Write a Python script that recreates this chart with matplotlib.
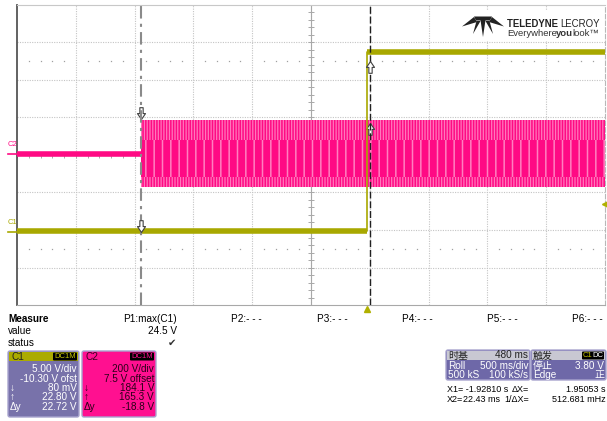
import matplotlib.pyplot as plt
from matplotlib.patches import Rectangle, FancyBboxPatch, Polygon
from matplotlib.path import Path
from matplotlib.transforms import blended_transform_factory

plt.rcParams['font.family'] = ['Liberation Sans', 'Noto Sans CJK SC', 'DejaVu Sans']
plt.rcParams['hatch.linewidth'] = 1.1

# scope settings
time_per_div = 0.5        # s/div
time_center = -0.48       # s
c1_vdiv, c1_ofst = 5.0, -10.30
c2_vdiv, c2_ofst = 200.0, 7.5
trig_level = 3.80

# traces (s, V)
c1_t = [-2.98, 0.0, 0.0, 2.02]
c1_v = [0.1, 0.1, 24.0, 24.0]
c2_t = [-2.98, -1.928]
c2_v = [0.0, 0.0]
burst_t = [-1.928, 2.02]
burst_max = [178.0, 178.0]
burst_min = [-178.0, -178.0]
core_max = [70.0, 70.0]
core_min = [-125.0, -125.0]

# cursors
x1, x2 = -1.92810, 0.02243
c1_at_x1, c1_at_x2 = 0.08, 22.80
c2_at_x1, c2_at_x2 = 184.1, 165.3

# measure table
meas_names = ['P1:max(C1)', 'P2:- - -', 'P3:- - -', 'P4:- - -', 'P5:- - -', 'P6:- - -']
meas_values = ['24.5 V', '', '', '', '', '']
meas_status = ['\u2714', '', '', '', '', '']

c1_labels = ['', '', '\u2193', '\u2191', '\u0394y']
c1_info = ['5.00 V/div', '-10.30 V ofst', '80 mV', '22.80 V', '22.72 V']
c2_labels = ['', '', '\u2193', '\u2191', '\u0394y']
c2_info = ['200 V/div', '7.5 V offset', '184.1 V', '165.3 V', '-18.8 V']

YEL = '#A8A800'
PINK = '#FF0A84'
PURPLE = '#7872AA'

W, H = 607, 421
fig = plt.figure(figsize=(W / 100, H / 100), dpi=100)
rect = [17 / W, 1 - 305 / H, 588 / W, 300 / H]

# graticule
ax = fig.add_axes(rect)
ax.set_xlim(0, 10)
ax.set_ylim(0, 8)
ax.set_xticks([])
ax.set_yticks([])
for i in range(1, 10):
    ax.axvline(i, color='#C4C4C4', lw=0.8, ls=(0, (1, 1.2)), zorder=1)
for j in range(1, 8):
    ax.axhline(j, color='#C4C4C4', lw=0.8, ls=(0, (1, 1.2)), zorder=1)
ax.axvline(5, color='#A8A8A8', lw=0.8, zorder=1)
ax.axhline(4, color='#A8A8A8', lw=0.8, zorder=1)
ticks = [k * 0.2 for k in range(51)]
ax.hlines([t for t in ticks if t <= 8], 4.95, 5.05, color='#A8A8A8', lw=0.7, zorder=1)
ax.vlines(ticks, 3.92, 4.08, color='#A8A8A8', lw=0.7, zorder=1)
dots = [i + k * 0.2 for i in range(10) for k in range(1, 5)]
for yy in (6.5, 1.5):
    ax.plot(dots, [yy] * len(dots), ls='none', marker='s', ms=0.9, mew=0, color='#A0A0A0', zorder=1)
ax.spines['left'].set_color('#555555')
ax.spines['left'].set_linewidth(1.3)
ax.spines['top'].set_color('#C8C8C8')
ax.spines['bottom'].set_color('#A8A8A8')
ax.spines['right'].set_color('#B8B8B8')
ax.spines['right'].set_linestyle((0, (4, 2)))

t_lo = time_center - 5 * time_per_div
t_hi = time_center + 5 * time_per_div

# C2
ax2 = fig.add_axes(rect)
ax2.set_xlim(t_lo, t_hi)
ax2.set_ylim(-4 * c2_vdiv - c2_ofst, 4 * c2_vdiv - c2_ofst)
ax2.axis('off')
ax2.fill_between(burst_t, burst_min, burst_max, facecolor='#FF78BC', edgecolor=PINK,
                 hatch='||||||', lw=0, zorder=3)
ax2.fill_between(burst_t, core_min, core_max, facecolor=PINK, edgecolor='#FF80C0',
                 hatch='||', lw=0, zorder=3)
ax2.plot(c2_t, c2_v, color=PINK, lw=4, solid_capstyle='butt', zorder=4)

# C1
ax1 = fig.add_axes(rect)
ax1.set_xlim(t_lo, t_hi)
ax1.set_ylim(-4 * c1_vdiv - c1_ofst, 4 * c1_vdiv - c1_ofst)
ax1.axis('off')
ax1.plot(c1_t, c1_v, color=YEL, lw=1.2, zorder=4)
ax1.plot(c1_t[:2], c1_v[:2], color=YEL, lw=4, solid_capstyle='butt', zorder=4)
ax1.plot(c1_t[2:], c1_v[2:], color=YEL, lw=4, solid_capstyle='butt', zorder=4)

# cursors
ax1.axvline(x1, color='#8A8A8A', lw=1.5, ls=(0, (6, 2.5, 1.5, 2.5)), zorder=6)
ax1.axvline(x2, color='#202020', lw=1.0, ls=(0, (5, 2)), zorder=6)

down_v = [(-0.14, 1), (0.14, 1), (0.14, 0.5), (0.34, 0.5), (0, 0), (-0.34, 0.5), (-0.14, 0.5), (-0.14, 1)]
codes = [Path.MOVETO] + [Path.LINETO] * 6 + [Path.CLOSEPOLY]
down = Path(down_v, codes)
up = Path([(x, -y) for x, y in down_v], codes)
mk = dict(ls='none', ms=17, mfc='white', mec='#404040', mew=0.8, zorder=8)
ax1.plot([x1], [c1_at_x1], marker=down, **mk)
ax1.plot([x2], [c1_at_x2], marker=up, **mk)
ax2.plot([x1], [c2_at_x1], marker=down, **mk)
ax2.plot([x2], [c2_at_x2], marker=up, **mk)

# trigger markers and channel ground markers
bx = blended_transform_factory(ax1.transData, ax1.transAxes)
ax1.plot([0], [-0.014], marker='^', ms=5, color='#B0B000', transform=bx, clip_on=False)
by1 = blended_transform_factory(ax1.transAxes, ax1.transData)
ax1.plot([1.0], [trig_level], marker='<', ms=4, color='#B0B000', transform=by1, clip_on=False)
ax1.plot([-0.016, 0], [0, 0], color=YEL, lw=1.2, transform=by1, clip_on=False)
ax1.text(-0.016, 0.8, 'C1', color=YEL, fontsize=5.5, transform=by1, va='bottom', ha='left')
by2 = blended_transform_factory(ax2.transAxes, ax2.transData)
ax2.plot([-0.016, 0], [0, 0], color=PINK, lw=1.2, transform=by2, clip_on=False)
ax2.text(-0.016, 30, 'C2', color=PINK, fontsize=5.5, transform=by2, va='bottom', ha='left')

# overlay in pixel units for logo and readouts
ov = fig.add_axes([0, 0, 1, 1])
ov.set_xlim(0, W)
ov.set_ylim(H, 0)
ov.axis('off')
renderer = fig.canvas.get_renderer()


def run_text(x, y, parts, **kw):
    for s, weight in parts:
        t = ov.text(x, y, s, weight=weight, va='baseline', ha='left', **kw)
        bb = t.get_window_extent(renderer)
        x += bb.width - 0.6


# logo
ov.add_patch(Rectangle((458, 11), 144, 30, fc='white', ec='none', zorder=1))
logo = [
    [(462, 26.5), (474, 17), (477, 22)],
    [(473, 34), (476.5, 21), (480.5, 21)],
    [(483, 37), (480.5, 20), (485.5, 20)],
    [(493, 34), (485.5, 21), (489.5, 21)],
    [(504, 26.5), (489, 22), (492, 17)],
    [(474, 16.5), (492, 16.5), (490, 20.5), (476, 20.5)],
]
for poly in logo:
    ov.add_patch(Polygon(poly, closed=True, fc='#222222', ec='none', zorder=2))
run_text(507, 27, [('TELEDYNE ', 'bold'), ('LECROY', 'normal')], fontsize=6.9, color='#222222', zorder=3)
run_text(507, 36.5, [('Everywhere', 'normal'), ('you', 'bold'), ('look\u2122', 'normal')],
         fontsize=6.8, color='#333333', zorder=3)

# measure table
fs = 7.2
ov.text(8, 319, 'Measure', fontsize=fs, weight='bold', va='center')
ov.text(8, 331, 'value', fontsize=fs, va='center')
ov.text(8, 343, 'status', fontsize=fs, va='center')
for k, name in enumerate(meas_names):
    xr = 177 + 85.2 * k
    ov.text(xr, 319, name, fontsize=fs, ha='right', va='center')
    ov.text(xr, 331, meas_values[k], fontsize=fs, ha='right', va='center')
    ov.text(xr - 1, 343, meas_status[k], fontsize=fs, ha='right', va='center', color='#333333')

rows_y = [369, 378.5, 388, 397.5, 407]


def channel_box(x0, w, body, head, name, name_col, badge_col, labels, info, txt_col):
    ov.add_patch(FancyBboxPatch((x0, 351), w, 66, boxstyle='round,pad=0,rounding_size=2',
                                fc=body, ec='#A8A4CE', lw=1))
    ov.add_patch(Rectangle((x0 + 1, 352), w - 2, 9, fc=head, ec='none'))
    ov.text(x0 + 3, 356.5, name, fontsize=fs, color=name_col, va='center')
    ov.add_patch(FancyBboxPatch((x0 + w - 26, 352.5), 24, 8, boxstyle='round,pad=0,rounding_size=1',
                                fc='black', ec='none'))
    ov.text(x0 + w - 14, 356.7, 'DC1M', fontsize=5.5, color=badge_col, ha='center', va='center')
    for yy, lab, val in zip(rows_y, labels, info):
        ov.text(x0 + 2, yy, lab, fontsize=fs, color=txt_col, va='center')
        ov.text(x0 + w - 2, yy, val, fontsize=fs, color=txt_col, va='center', ha='right')


channel_box(8, 71, PURPLE, '#ABAB00', 'C1', '#222222', '#C8C800', c1_labels, c1_info, 'white')
channel_box(82, 74, '#FF1090', '#FF1090', 'C2', '#3A0020', '#FF1090', c2_labels, c2_info, '#2A0018')

# timebase and trigger boxes
for x0, w in ((446, 84), (531, 75)):
    ov.add_patch(FancyBboxPatch((x0, 350), w, 30, boxstyle='round,pad=0,rounding_size=2',
                                fc='#6E68A8', ec='#A8A4CE', lw=1))
    ov.add_patch(Rectangle((x0 + 1, 351), w - 2, 9, fc='#C8C8D2', ec='none'))
tb = dict(fontsize=fs, va='center')
ov.text(448, 355.5, '时基', color='#222222', **tb)
ov.text(528, 355.5, '480 ms', color='#222222', ha='right', **tb)
ov.text(448, 366, 'Roll', color='white', **tb)
ov.text(528, 366, '500 ms/div', color='white', ha='right', **tb)
ov.text(448, 375.5, '500 kS', color='white', **tb)
ov.text(528, 375.5, '100 kS/s', color='white', ha='right', **tb)

ov.text(533, 355.5, '触发', color='#222222', **tb)
ov.add_patch(FancyBboxPatch((582, 351.5), 22, 8, boxstyle='round,pad=0,rounding_size=1', fc='black', ec='none'))
ov.text(587.5, 355.7, 'C1', fontsize=5.5, color='#C8C800', ha='center', va='center')
ov.text(598, 355.7, 'DC', fontsize=5.5, color='white', ha='center', va='center')
ov.text(533, 366, '停止', color='white', **tb)
ov.text(604, 366, '3.80 V', color='white', ha='right', **tb)
ov.text(533, 375.5, 'Edge', color='white', **tb)
ov.text(604, 375.5, '正', color='white', ha='right', **tb)

xr = dict(fontsize=6.5, va='center')
ov.text(447, 389, 'X1= -1.92810 s', **xr)
ov.text(512, 389, '\u0394X=', **xr)
ov.text(606, 389, '1.95053 s', ha='right', **xr)
ov.text(447, 400, 'X2=', **xr)
ov.text(500, 400, '22.43 ms', ha='right', **xr)
ov.text(504, 400, '1/\u0394X=', **xr)
ov.text(606, 400, '512.681 mHz', ha='right', **xr)

fig.savefig('out.png', dpi=100)
